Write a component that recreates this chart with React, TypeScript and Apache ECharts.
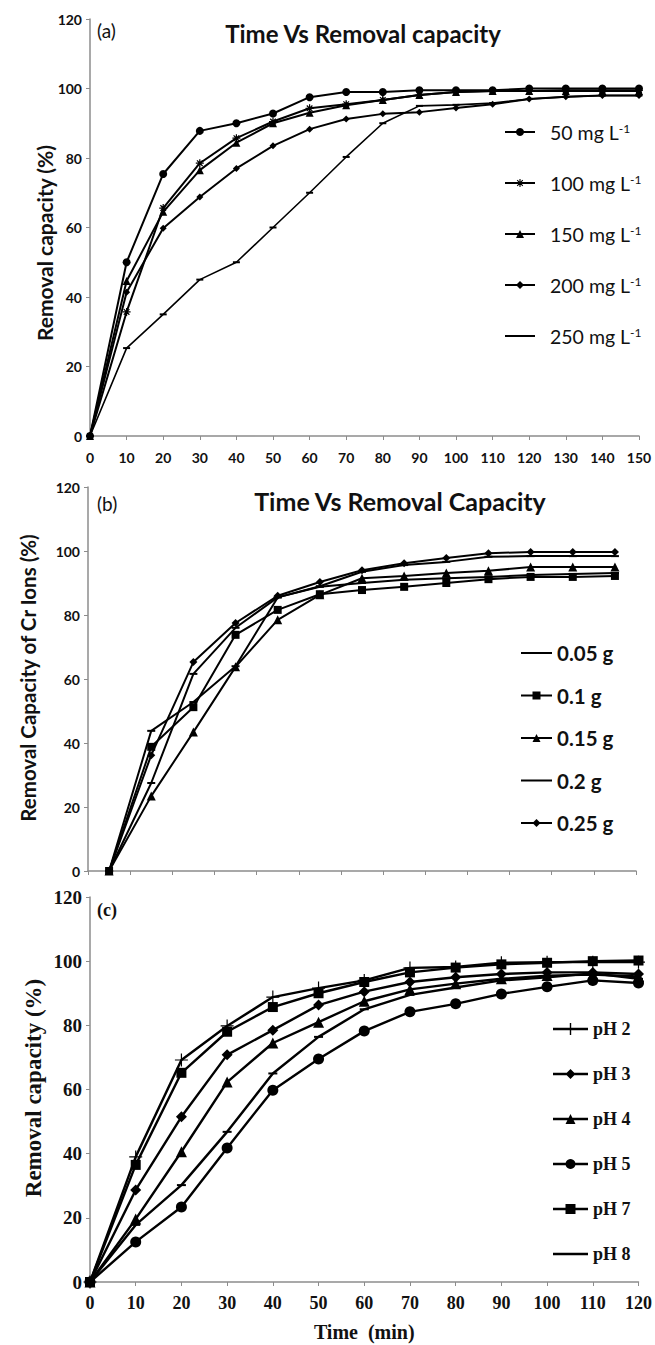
import React, { useEffect, useRef } from "react";
import * as echarts from "echarts";

// ---------- Panel (a) ----------
const timesA = [0, 10, 20, 30, 40, 50, 60, 70, 80, 90, 100, 110, 120, 130, 140, 150];
const namesA = ["50 mg L-1", "100 mg L-1", "150 mg L-1", "200 mg L-1", "250 mg L-1"];
const a50 = [0, 50, 75.4, 87.8, 90, 92.8, 97.5, 99, 99, 99.5, 99.5, 99.5, 100, 100, 100, 100];
const a100 = [0, 35.7, 65.6, 78.5, 85.7, 90.5, 94.3, 95.5, 96.7, 98.1, 99, 99.3, 99.3, 99.5, 99.5, 99.5];
const a150 = [0, 44.6, 64.5, 76.5, 84.4, 90, 93, 95.2, 96.7, 98.1, 99, 99.3, 99.3, 99.3, 99.3, 99.3];
const a200 = [0, 41.4, 59.8, 68.8, 77, 83.5, 88.3, 91.2, 92.7, 93.2, 94.4, 95.5, 97, 97.6, 98, 98];
const a250 = [0, 25.3, 35, 45, 50, 60, 70, 80.3, 90, 95, 95.3, 95.8, 97, 97.6, 98, 98];

// ---------- Panel (b) ----------
const catsB = ["0", "10", "20", "30", "40", "50", "60", "70", "80", "90", "100", "110", "120"];
const namesB = ["0.05 g", "0.1 g", "0.15 g", "0.2 g", "0.25 g"];
const b005 = [0, 43.8, 52.8, 64, 85.5, 88.8, 90, 91, 91.5, 91.9, 92.5, 92.8, 93.1];
const b01 = [0, 38.8, 51.2, 73.8, 81.6, 86.5, 87.8, 88.8, 90, 91.2, 91.9, 91.9, 92.2];
const b015 = [0, 23.4, 43.4, 63.8, 78.5, 86.3, 91.5, 92.2, 93.1, 93.8, 95, 95, 95];
const b02 = [0, 27.5, 61.6, 76, 85.5, 89, 93.5, 95.6, 96.6, 98.2, 98.4, 98.4, 98.4];
const b025 = [0, 36.2, 65.3, 77.5, 86, 90.3, 94, 96.2, 97.8, 99.3, 99.7, 99.7, 99.7];

// ---------- Panel (c) ----------
const timesC = [0, 10, 20, 30, 40, 50, 60, 70, 80, 90, 100, 110, 120];
const namesC = ["pH 2", "pH 3", "pH 4", "pH 5", "pH 7", "pH 8"];
const cPH2 = [0, 39, 69.2, 79.8, 88.8, 91.6, 94, 97.9, 98.2, 99.5, 99.7, 99.7, 99.7];
const cPH3 = [0, 28.7, 51.5, 70.8, 78.5, 86.3, 90.5, 93.5, 95, 96, 96.5, 96.5, 96];
const cPH4 = [0, 19.6, 40.6, 62.3, 74.5, 81, 87.5, 91.2, 93, 94.5, 95.5, 95.8, 95.2];
const cPH5 = [0, 12.5, 23.4, 41.8, 59.8, 69.5, 78.2, 84.2, 86.7, 89.8, 92, 94, 93.2];
const cPH7 = [0, 36.5, 65.2, 78, 85.7, 90, 93.5, 96.5, 98, 99, 99.5, 100, 100.2];
const cPH8 = [0, 17.8, 30.2, 46.8, 65, 76.4, 85, 89.5, 91.8, 94, 95, 96.2, 94.5];

const yTicks = { min: 0, max: 120, interval: 20 };

const STAR = "path://M5,0L5,10M0,5L10,5M1.5,1.5L8.5,8.5M8.5,1.5L1.5,8.5";
const PLUS = "path://M5,0L5,10M0,5L10,5";

const AX = "#8c8c8c";
const SANS = "Lato, 'Open Sans', sans-serif";
const SERIF = "'Liberation Serif', 'DejaVu Serif', serif";

function pairs(xs: number[], ys: number[]) {
  return xs.map((x, i) => [x, ys[i]]);
}

const f = (v: number) => (Math.abs(v) < 1e-6 ? "0" : v.toFixed(3));

// closed polygon, forced to clockwise (screen coords) so nonzero fill unions shapes
function poly(pts: number[][]) {
  let area = 0;
  for (let i = 0; i < pts.length; i++) {
    const [x1, y1] = pts[i];
    const [x2, y2] = pts[(i + 1) % pts.length];
    area += x1 * y2 - x2 * y1;
  }
  const p = area < 0 ? pts.slice().reverse() : pts;
  return "M" + p.map(([x, y]) => `${f(x)},${f(y)}`).join("L") + "Z ";
}

// legend icon: a line with a marker in the middle, as one filled path spanning w x h
function legendIcon(w: number, h: number, marker: string, lw: number, ms: number) {
  const cy = h / 2;
  const cx = w / 2;
  const r = ms / 2;
  const t = 0.01;
  let p = poly([[0, 0], [t, 0], [0, t]]) + poly([[w, h], [w - t, h], [w, h - t]]);
  p += poly([[0, cy - lw / 2], [w, cy - lw / 2], [w, cy + lw / 2], [0, cy + lw / 2]]);
  const bar = (x1: number, y1: number, x2: number, y2: number, bw: number) => {
    const dx = x2 - x1, dy = y2 - y1;
    const len = Math.sqrt(dx * dx + dy * dy);
    const nx = (-dy / len) * bw / 2, ny = (dx / len) * bw / 2;
    return poly([[x1 + nx, y1 + ny], [x2 + nx, y2 + ny], [x2 - nx, y2 - ny], [x1 - nx, y1 - ny]]);
  };
  if (marker === "circle") {
    const pts: number[][] = [];
    for (let k = 0; k < 24; k++) {
      const a = (k / 24) * Math.PI * 2;
      pts.push([cx + r * Math.cos(a), cy + r * Math.sin(a)]);
    }
    p += poly(pts);
  } else if (marker === "triangle") {
    p += poly([[cx - r, cy + r], [cx, cy - r], [cx + r, cy + r]]);
  } else if (marker === "diamond") {
    p += poly([[cx, cy - r], [cx + r, cy], [cx, cy + r], [cx - r, cy]]);
  } else if (marker === "square") {
    p += poly([[cx - r, cy - r], [cx + r, cy - r], [cx + r, cy + r], [cx - r, cy + r]]);
  } else if (marker === "star") {
    p += bar(cx, cy - r, cx, cy + r, 1.1);
    p += bar(cx - r * 0.7, cy - r * 0.7, cx + r * 0.7, cy + r * 0.7, 1.1);
    p += bar(cx + r * 0.7, cy - r * 0.7, cx - r * 0.7, cy + r * 0.7, 1.1);
  } else if (marker === "plus") {
    p += bar(cx, 0, cx, h, 1.4);
  }
  return "path://" + p;
}

const markersA = ["circle", "star", "triangle", "diamond", "none"];
const markersB = ["none", "square", "triangle", "none", "diamond"];
const markersC = ["plus", "diamond", "triangle", "circle", "square", "none"];

export default function App() {
  const ref = useRef<HTMLDivElement>(null);
  useEffect(() => {
    if (!ref.current) return;
    const chart = echarts.init(ref.current, null, { renderer: "svg" });

    const lineBase = (name: string, xi: number, data: any, symbol: string, size: any, lw: number) => ({
      name,
      type: "line",
      xAxisIndex: xi,
      yAxisIndex: xi,
      data,
      symbol,
      symbolSize: size,
      showSymbol: true,
      lineStyle: { color: "#000", width: lw },
      itemStyle: { color: "#000", borderColor: "#000", borderWidth: symbol.startsWith("path") ? 1.2 : 0 },
      emphasis: { disabled: true },
      z: 3,
    });

    const yAxisCommon = (gi: number, font: string, size: number) => ({
      type: "value",
      gridIndex: gi,
      ...yTicks,
      axisLine: { show: true, lineStyle: { color: AX, width: 1.5 } },
      axisTick: { show: true, length: 4, lineStyle: { color: AX } },
      splitLine: { show: false },
      axisLabel: { fontFamily: font, fontWeight: "bold", fontSize: size, color: "#111", margin: 8 },
    });

    const supRich = (font: string, size: number) => ({
      n: { fontFamily: font, fontSize: size, color: "#111" },
      s: { fontFamily: font, fontSize: size * 0.62, color: "#111", verticalAlign: "top", padding: [0, 0, 9, 0] },
    });

    const legendItemStyle = { color: "#000", borderWidth: 0, borderColor: "#000" };

    const option: any = {
      animation: false,
      grid: [
        { left: 90, top: 19, width: 549, height: 417 },
        { left: 88, top: 487, width: 548, height: 384 },
        { left: 90, top: 897, width: 549, height: 385 },
      ],
      xAxis: [
        {
          type: "value",
          gridIndex: 0,
          min: 0,
          max: 150,
          interval: 10,
          axisLine: { show: true, lineStyle: { color: AX, width: 1.5 } },
          axisTick: { show: true, length: 4, lineStyle: { color: AX } },
          splitLine: { show: false },
          axisLabel: { fontFamily: SANS, fontWeight: "bold", fontSize: 14, color: "#111", margin: 14 },
        },
        {
          type: "category",
          gridIndex: 1,
          data: catsB,
          boundaryGap: true,
          axisLine: { show: true, lineStyle: { color: AX, width: 1.5 } },
          axisTick: { show: true, length: 4, lineStyle: { color: AX } },
          axisLabel: { show: false },
          splitLine: { show: false },
        },
        {
          type: "value",
          gridIndex: 2,
          min: 0,
          max: 120,
          interval: 10,
          axisLine: { show: true, lineStyle: { color: AX, width: 1.5 } },
          axisTick: { show: true, length: 4, lineStyle: { color: AX } },
          splitLine: { show: false },
          axisLabel: { fontFamily: SERIF, fontWeight: "bold", fontSize: 18, color: "#111", margin: 12 },
          name: "Time  (min)",
          nameLocation: "middle",
          nameGap: 40,
          nameTextStyle: { fontFamily: SERIF, fontWeight: "bold", fontSize: 20, color: "#111" },
        },
      ],
      yAxis: [yAxisCommon(0, SANS, 14), yAxisCommon(1, SANS, 14), yAxisCommon(2, SERIF, 19)],
      legend: [
        {
          data: namesA.map((n, i) => ({ name: n, icon: legendIcon(30, 10, markersA[i], 2, 8) })),
          orient: "vertical",
          left: 500,
          top: 117,
          itemWidth: 30,
          itemHeight: 10,
          itemGap: 31,
          selectedMode: false,
          itemStyle: legendItemStyle,
          formatter: (n: string) => `{n|${n.replace(/-1$/, "")}}{s|-1}`,
          textStyle: { lineHeight: 20, height: 20, padding: [0, 0, 0, 10], rich: supRich(SANS, 19.5) },
        },
        {
          data: namesB.map((n, i) => ({ name: n, icon: legendIcon(31, 10, markersB[i], 2, 8) })),
          orient: "vertical",
          left: 516,
          top: 637,
          itemWidth: 31,
          itemHeight: 10,
          itemGap: 20.5,
          selectedMode: false,
          itemStyle: legendItemStyle,
          textStyle: { fontFamily: SANS, fontWeight: "bold", fontSize: 20.5, color: "#111", lineHeight: 22 },
        },
        {
          data: namesC.map((n, i) => ({ name: n, icon: legendIcon(35, 12, markersC[i], 2.4, 10) })),
          orient: "vertical",
          left: 548,
          top: 1013,
          itemWidth: 35,
          itemHeight: 12,
          itemGap: 23,
          selectedMode: false,
          itemStyle: legendItemStyle,
          textStyle: { fontFamily: SERIF, fontWeight: "bold", fontSize: 18, color: "#111", lineHeight: 22 },
        },
      ],
      graphic: [
        { type: "text", left: 97, top: 21, style: { text: "(a)", fontFamily: SANS, fontSize: 19, fill: "#111" } },
        {
          type: "text", x: 363, y: 33,
          style: { text: "Time Vs Removal capacity", fontFamily: SANS, fontWeight: "bold", fontSize: 24, fill: "#111", align: "center", verticalAlign: "middle" },
        },
        {
          type: "text", x: 44, y: 243, rotation: Math.PI / 2,
          style: { text: "Removal capacity (%)", fontFamily: SANS, fontWeight: "bold", fontSize: 21, fill: "#111", align: "center", verticalAlign: "middle" },
        },
        { type: "text", left: 97, top: 494, style: { text: "(b)", fontFamily: SANS, fontSize: 19, fill: "#111" } },
        {
          type: "text", x: 400, y: 501,
          style: { text: "Time Vs Removal Capacity", fontFamily: SANS, fontWeight: "bold", fontSize: 25, fill: "#111", align: "center", verticalAlign: "middle" },
        },
        {
          type: "text", x: 28, y: 678, rotation: Math.PI / 2,
          style: { text: "Removal Capacity of Cr Ions (%)", fontFamily: SANS, fontWeight: "bold", fontSize: 20.5, fill: "#111", align: "center", verticalAlign: "middle" },
        },
        { type: "text", left: 97, top: 901, style: { text: "(c)", fontFamily: SERIF, fontWeight: "bold", fontSize: 18, fill: "#111" } },
        {
          type: "text", x: 33, y: 1088, rotation: Math.PI / 2,
          style: { text: "Removal capacity (%)", fontFamily: SERIF, fontWeight: "bold", fontSize: 23, fill: "#111", align: "center", verticalAlign: "middle" },
        },
      ],
      series: [
        lineBase(namesA[0], 0, pairs(timesA, a50), "circle", 8, 2),
        lineBase(namesA[1], 0, pairs(timesA, a100), STAR, 8, 2),
        lineBase(namesA[2], 0, pairs(timesA, a150), "triangle", 8, 2),
        lineBase(namesA[3], 0, pairs(timesA, a200), "diamond", 7, 2),
        lineBase(namesA[4], 0, pairs(timesA, a250), "rect", [7, 2], 1.6),

        lineBase(namesB[0], 1, b005, "rect", [8, 2], 2),
        lineBase(namesB[1], 1, b01, "rect", 8, 2),
        lineBase(namesB[2], 1, b015, "triangle", 9, 2),
        lineBase(namesB[3], 1, b02, "rect", [8, 2], 2),
        lineBase(namesB[4], 1, b025, "diamond", 8, 2),

        lineBase(namesC[0], 2, pairs(timesC, cPH2), PLUS, 13, 2.4),
        lineBase(namesC[1], 2, pairs(timesC, cPH3), "diamond", 11, 2.4),
        lineBase(namesC[2], 2, pairs(timesC, cPH4), "triangle", 11, 2.4),
        lineBase(namesC[3], 2, pairs(timesC, cPH5), "circle", 11, 2.4),
        lineBase(namesC[4], 2, pairs(timesC, cPH7), "rect", 10, 2.4),
        lineBase(namesC[5], 2, pairs(timesC, cPH8), "rect", [9, 2], 2.4),
      ],
    };
    chart.setOption(option);
    return () => chart.dispose();
  }, []);

  return (
    <div
      ref={ref}
      style={{ position: "absolute", left: 0, top: 0, width: 655, height: 1345, background: "#fff" }}
    />
  );
}
